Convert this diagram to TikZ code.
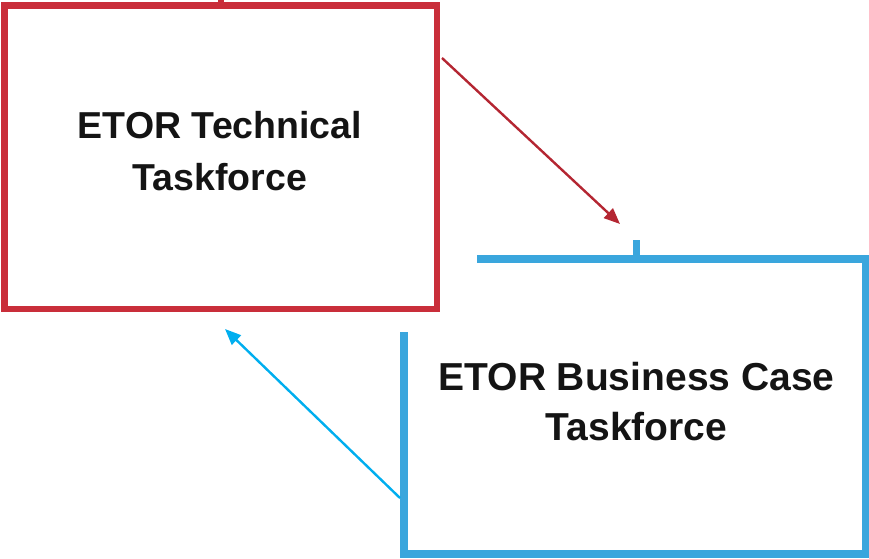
\documentclass[tikz,border=0pt]{standalone}
\usepackage{fontspec}
\setmainfont{Liberation Sans}
\usetikzlibrary{arrows.meta,calc}
\definecolor{boxred}{RGB}{201,46,58}
\definecolor{arrred}{RGB}{180,38,50}
\definecolor{boxblue}{RGB}{58,166,221}
\definecolor{arrblue}{RGB}{0,174,239}
\tikzset{
  frame/.style={rectangle, inner sep=0pt, outer sep=0pt},
  lbl/.style={align=center, text=black!92, font=\bfseries\fontsize{37.5}{52}\selectfont},
  arr/.style={line width=2.4pt, -{Triangle[length=16pt,width=13pt]}},
}
\begin{document}
\begin{tikzpicture}[x=1pt,y=-1pt]
\useasboundingbox (0,0) rectangle (869,558);
% red box
\node[frame, draw=boxred, line width=6.5pt, minimum width=432.5pt, minimum height=303.5pt] (tech) at (220.75,157.25) {};
\draw[boxred, line width=6.5pt] (tech.north) -- ++(0,-6);
\node[lbl, anchor=base] (techlabel) at (220,190) {ETOR Technical\\Taskforce};
% blue box
\node[frame, minimum width=461.7pt, minimum height=294.5pt] (biz) at (634.85,406.25) {};
\draw[boxblue, line width=8pt]
  ($(biz.north west)+(73,0)$) -- (biz.north east) -- (biz.south east) -- (biz.south west) -- ($(biz.north west)+(0,73)$);
\draw[boxblue, line width=7pt] ($(biz.north)+(1.65,0)$) -- ++(0,-19);
\node[lbl, font=\bfseries\fontsize{39}{50}\selectfont, anchor=base] (bizlabel) at (636.5,440.5) {ETOR Business Case\\Taskforce};
% arrows
\draw[arr, arrred] ($(tech.north east)+(5,52.5)$) -- ($(biz.north)+(-14.85,-35)$);
\draw[arr, arrblue] ($(biz.south west)+(-4,-55.5)$) -- ($(tech.south)+(4.25,20)$);
\end{tikzpicture}
\end{document}
